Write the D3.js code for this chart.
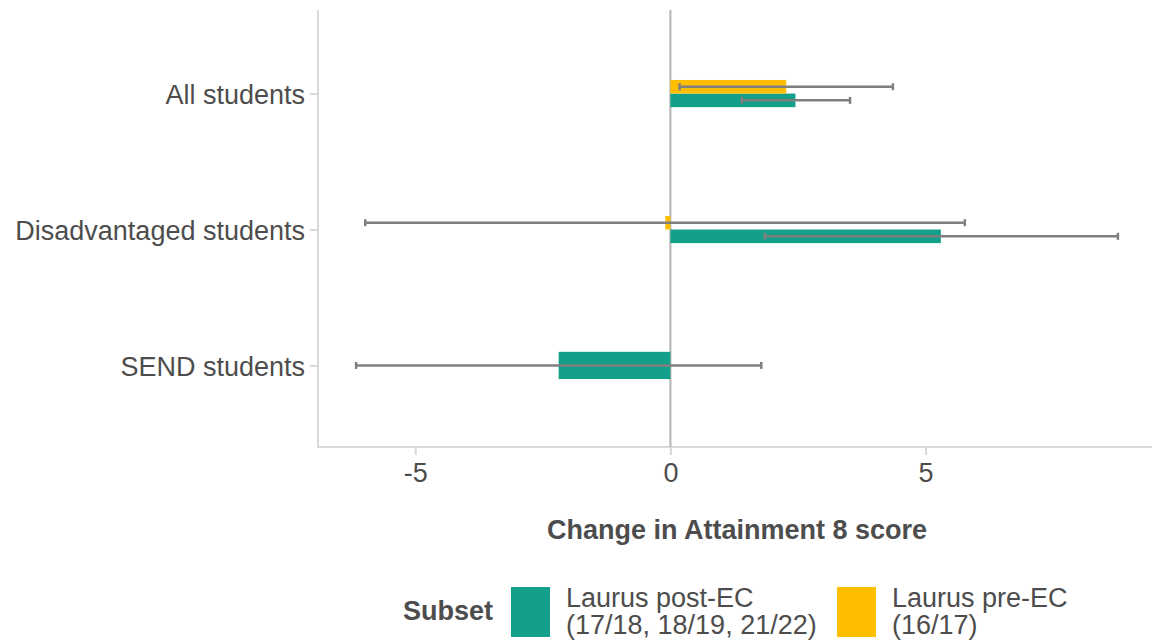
<!DOCTYPE html>
<html>
<head>
<meta charset="utf-8">
<script src="https://cdn.jsdelivr.net/npm/d3@7"></script>
<style>
  html, body { margin: 0; padding: 0; background: #ffffff; }
  svg { display: block; }
  text { font-family: "Liberation Sans", Arial, sans-serif; fill: #4d4d4d; }
</style>
</head>
<body>
<svg id="chart" width="1152" height="643"></svg>
<script>
// Student groups (top to bottom)
const categories = ["All students", "Disadvantaged students", "SEND students"];

// Series names and colours
const seriesNames = ["Laurus post-EC (17/18, 18/19, 21/22)", "Laurus pre-EC (16/17)"];
const seriesLabels = [["Laurus post-EC", "(17/18, 18/19, 21/22)"], ["Laurus pre-EC", "(16/17)"]];
const seriesColors = ["#13a08a", "#ffbf00"];

// Change in Attainment 8 score, with confidence interval bounds (null = no estimate)
const postValues = [2.45, 5.30, -2.19];
const postLower  = [1.40, 1.85, -6.16];
const postUpper  = [3.52, 8.77, 1.78];

const preValues = [2.27, -0.10, null];
const preLower  = [0.18, -5.98, null];
const preUpper  = [4.36, 5.77, null];

const xTicks = [-5, 0, 5];
const xTitle = "Change in Attainment 8 score";
const legendTitle = "Subset";

// Rows built from the arrays above
const rows = [];
categories.forEach((c, i) => {
  const groups = [];
  if (postValues[i] !== null) groups.push({ s: 0, v: postValues[i], lo: postLower[i], hi: postUpper[i] });
  if (preValues[i] !== null) groups.push({ s: 1, v: preValues[i], lo: preLower[i], hi: preUpper[i] });
  groups.forEach((g, k) => rows.push({ cat: c, idx: k, n: groups.length, ...g }));
});

const svg = d3.select("#chart");
const panel = { left: 318, right: 1156, top: 12, bottom: 447 };

// x scale with 5% expansion of the data range
const allVals = rows.flatMap(r => [r.v, r.lo, r.hi, 0]);
const lo = d3.min(allVals), hi = d3.max(allVals);
const pad = (hi - lo) * 0.05;
const x = d3.scaleLinear().domain([lo - pad, hi + pad]).range([panel.left, panel.right]);

const y = d3.scalePoint().domain(categories).range([panel.top, panel.bottom]).padding(0.6);
const dodge = y.step() * 0.2;

// bar position: pre-EC above post-EC when both present
function barTop(r) {
  const sub = dodge / r.n;
  const slot = r.n === 1 ? 0 : (r.s === 1 ? 0 : 1);
  return y(r.cat) - dodge / 2 + slot * sub;
}
function barH(r) { return dodge / r.n; }

// axis lines
svg.append("line").attr("x1", panel.left).attr("x2", panel.left)
  .attr("y1", panel.top - 2).attr("y2", panel.bottom)
  .attr("stroke", "#d9d9d9").attr("stroke-width", 2);
svg.append("line").attr("x1", panel.left - 1).attr("x2", panel.right)
  .attr("y1", panel.bottom).attr("y2", panel.bottom)
  .attr("stroke", "#d9d9d9").attr("stroke-width", 2);

// x axis
const xAxis = svg.append("g").attr("transform", `translate(0,${panel.bottom})`)
  .call(d3.axisBottom(x).tickValues(xTicks).tickFormat(d => String(d)).tickSize(8).tickPadding(8));
xAxis.select(".domain").remove();
xAxis.selectAll(".tick line").attr("stroke", "#d9d9d9").attr("stroke-width", 2);
xAxis.selectAll(".tick text").attr("font-size", 27).attr("fill", "#4d4d4d")
  .attr("font-family", "Liberation Sans, Arial, sans-serif");

// y axis
const yAxis = svg.append("g").attr("transform", `translate(${panel.left},0)`)
  .call(d3.axisLeft(y).tickSize(8).tickPadding(5));
yAxis.select(".domain").remove();
yAxis.selectAll(".tick line").attr("stroke", "#d9d9d9").attr("stroke-width", 2);
yAxis.selectAll(".tick text").attr("font-size", 27).attr("fill", "#4d4d4d").attr("dy", "0.38em")
  .attr("font-family", "Liberation Sans, Arial, sans-serif");

// zero reference line
svg.append("line").attr("x1", x(0)).attr("x2", x(0))
  .attr("y1", panel.top - 2).attr("y2", panel.bottom)
  .attr("stroke", "#b3b3b3").attr("stroke-width", 2);

// bars
svg.append("g").selectAll("rect").data(rows).join("rect")
  .attr("x", d => Math.min(x(0), x(d.v)))
  .attr("width", d => Math.abs(x(d.v) - x(0)))
  .attr("y", d => barTop(d))
  .attr("height", d => barH(d))
  .attr("fill", d => seriesColors[d.s]);

// error bars
const eb = svg.append("g").attr("stroke", "#7f7f7f").attr("stroke-width", 2.5).attr("fill", "none");
rows.forEach(r => {
  const cy = barTop(r) + barH(r) / 2;
  eb.append("line").attr("x1", x(r.lo)).attr("x2", x(r.hi)).attr("y1", cy).attr("y2", cy);
  [r.lo, r.hi].forEach(v => {
    eb.append("line").attr("x1", x(v)).attr("x2", x(v)).attr("y1", cy - 3.5).attr("y2", cy + 3.5);
  });
});

// x axis title
svg.append("text").attr("x", (panel.left + panel.right) / 2).attr("y", 539)
  .attr("text-anchor", "middle").attr("font-size", 27).attr("font-weight", "bold")
  .text(xTitle);

// legend
const lg = svg.append("g");
lg.append("text").attr("x", 403).attr("y", 620).attr("font-size", 27).attr("font-weight", "bold")
  .text(legendTitle);
const keyX = [511, 837];
seriesNames.forEach((name, i) => {
  lg.append("rect").attr("x", keyX[i]).attr("y", 587).attr("width", 39).attr("height", 50)
    .attr("fill", seriesColors[i]);
  const t = lg.append("text").attr("x", keyX[i] + 55).attr("y", 607).attr("font-size", 27);
  seriesLabels[i].forEach((line, j) => {
    t.append("tspan").attr("x", keyX[i] + 55).attr("y", 607 + j * 27).text(line);
  });
});
</script>
</body>
</html>
